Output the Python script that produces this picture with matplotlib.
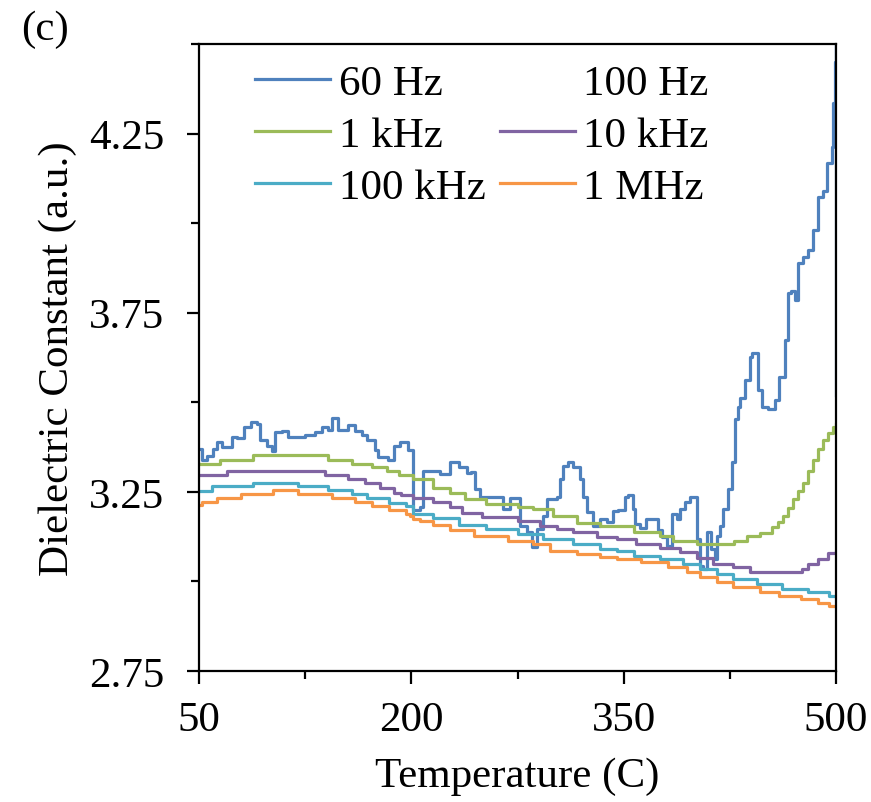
import matplotlib
matplotlib.use("Agg")
import matplotlib.pyplot as plt
from matplotlib.lines import Line2D
from matplotlib.ticker import FixedLocator

plt.rcParams['font.family'] = ['Liberation Serif', 'DejaVu Serif']

# ---- data ----
t_60hz = [50, 52, 56, 60, 63, 66, 68, 73, 77, 82, 87, 91, 93, 98, 101.6, 103.7, 108.6, 113, 118, 125,
          132, 137, 141, 144, 148, 155, 160, 165, 169, 174, 176.5, 183.5, 188, 192, 197.6, 201, 201.5,
          206, 208, 215, 220, 227, 234, 239, 242, 245, 248.5, 253, 260, 265, 270, 274.6, 277, 281.7,
          285, 289, 293, 296, 299, 303, 305, 307, 311, 314, 319, 321, 324, 328, 333, 338, 342.5, 346,
          351, 353, 356.6, 358, 361.5, 366, 370.7, 374, 377, 380.6, 384, 387.6, 390, 393, 397, 400,
          402, 404, 406, 409, 412, 414.5, 416, 418, 420, 423.7, 426.5, 428.6, 430.8, 432, 435.7, 439,
          441, 445, 448, 452, 457, 460, 464, 466, 468.5, 471, 473, 476.7, 480, 483.7, 487, 490.8,
          493.6, 497, 498, 499.5, 500, 500]
v_60hz = [3.37, 3.34, 3.349, 3.37, 3.388, 3.374, 3.374, 3.402, 3.40, 3.43, 3.446, 3.44, 3.396, 3.377,
          3.363, 3.416, 3.42, 3.402, 3.404, 3.41, 3.416, 3.432, 3.424, 3.457, 3.424, 3.437, 3.42, 3.41,
          3.396, 3.368, 3.346, 3.34, 3.377, 3.39, 3.368, 3.368, 3.20, 3.207, 3.307, 3.307, 3.299, 3.332,
          3.32, 3.304, 3.306, 3.257, 3.237, 3.235, 3.237, 3.201, 3.232, 3.232, 3.154, 3.137, 3.095,
          3.145, 3.182, 3.229, 3.229, 3.237, 3.285, 3.321, 3.332, 3.32, 3.285, 3.237, 3.193, 3.154,
          3.173, 3.165, 3.196, 3.2, 3.237, 3.24, 3.201, 3.159, 3.148, 3.173, 3.173, 3.143, 3.123, 3.098,
          3.187, 3.173, 3.201, 3.221, 3.237, 3.235, 3.118, 3.042, 3.034, 3.137, 3.09, 3.062, 3.126,
          3.154, 3.201, 3.257, 3.332, 3.452, 3.488, 3.513, 3.563, 3.627, 3.638, 3.535, 3.488, 3.48,
          3.507, 3.571, 3.675, 3.805, 3.81, 3.786, 3.889, 3.906, 3.925, 3.98, 4.073, 4.09, 4.167,
          4.212, 4.335, 4.45, 4.6, 3.52]

t_1khz = [50, 65, 88, 141, 158, 172, 183, 191, 201, 215, 227, 238, 253, 275, 286, 300, 317, 333, 357,
          376, 385, 402, 423, 428, 437, 446, 455, 459, 462.5, 466, 469.6, 473, 476.7, 480, 483.7, 487,
          490.8, 494, 497.9, 500]
v_1khz = [3.329, 3.340, 3.352, 3.340, 3.329, 3.318, 3.307, 3.296, 3.285, 3.262, 3.246, 3.229, 3.215,
          3.207, 3.201, 3.182, 3.162, 3.154, 3.137, 3.126, 3.112, 3.104, 3.104, 3.112, 3.126, 3.134,
          3.151, 3.165, 3.182, 3.205, 3.229, 3.252, 3.276, 3.308, 3.34, 3.37, 3.396, 3.415, 3.432, 3.44]

t_10khz = [50, 70, 139, 155, 167, 178, 188, 193, 201, 215, 227, 236, 250, 275, 291, 303, 314, 331, 345,
           359, 376, 390, 402, 413, 427, 439, 473, 476, 480, 487, 494, 500]
v_10khz = [3.296, 3.307, 3.296, 3.285, 3.274, 3.262, 3.246, 3.24, 3.232, 3.221, 3.207, 3.19, 3.179,
           3.168, 3.154, 3.145, 3.137, 3.123, 3.118, 3.104, 3.093, 3.081, 3.065, 3.048, 3.04, 3.026,
           3.026, 3.035, 3.048, 3.062, 3.079, 3.081]

t_100khz = [50, 59, 88, 120, 141, 158, 169, 184, 196, 201, 215, 234, 253, 275, 293, 314, 333, 345, 357,
            376, 392, 404, 416, 427, 444, 462, 480, 495, 500]
v_100khz = [3.251, 3.265, 3.276, 3.265, 3.254, 3.243, 3.232, 3.218, 3.21, 3.187, 3.176, 3.157, 3.145,
            3.131, 3.118, 3.104, 3.09, 3.084, 3.07, 3.062, 3.048, 3.034, 3.02, 3.006, 2.992, 2.978,
            2.97, 2.959, 2.959]

t_1mhz = [50, 52, 63, 80, 102, 120, 144, 160, 172, 184, 196, 199, 201, 206, 215, 227, 244, 268, 286,
          298, 317, 333, 345, 362, 381, 395, 404, 416, 427, 446, 460, 475, 487, 495, 500]
v_1mhz = [3.212, 3.223, 3.232, 3.243, 3.254, 3.243, 3.232, 3.221, 3.21, 3.198, 3.187, 3.182, 3.173,
          3.168, 3.157, 3.143, 3.126, 3.112, 3.104, 3.084, 3.076, 3.068, 3.062, 3.054, 3.04, 3.026,
          3.012, 2.998, 2.984, 2.97, 2.959, 2.95, 2.939, 2.931, 2.931]

labels = ["60 Hz", "100 Hz", "1 kHz", "10 kHz", "100 kHz", "1 MHz"]
colors = ["#4F81BD", "none", "#9BBB59", "#8064A2", "#4BACC6", "#F79646"]

x_ticks = [50, 200, 350, 500]
x_minor = [125, 275, 425]
y_ticks = [2.75, 3.25, 3.75, 4.25]
y_minor = [3.0, 3.5, 4.0, 4.5]

# ---- figure ----
fig = plt.figure(figsize=(8.71, 8.03), dpi=100)
ax = fig.add_axes([199/871, 1-672/803, (836-199)/871, (672-45)/803])

lw = 2.3
h60, = ax.plot(t_60hz, v_60hz, color=colors[0], lw=lw, drawstyle='steps-post')
h100 = Line2D([], [], color=colors[1], lw=lw)
h1k, = ax.plot(t_1khz, v_1khz, color=colors[2], lw=lw, drawstyle='steps-post')
h10k, = ax.plot(t_10khz, v_10khz, color=colors[3], lw=lw, drawstyle='steps-post')
h100k, = ax.plot(t_100khz, v_100khz, color=colors[4], lw=lw, drawstyle='steps-post')
h1m, = ax.plot(t_1mhz, v_1mhz, color=colors[5], lw=lw, drawstyle='steps-post')

ax.set_xlim(50, 500)
ax.set_ylim(2.75, 4.5)
ax.xaxis.set_major_locator(FixedLocator(x_ticks))
ax.xaxis.set_minor_locator(FixedLocator(x_minor))
ax.yaxis.set_major_locator(FixedLocator(y_ticks))
ax.yaxis.set_minor_locator(FixedLocator(y_minor))
ax.set_xticklabels([str(v) for v in x_ticks])
ax.set_yticklabels([f"{v:.2f}" for v in y_ticks])

FS = 31
for s in ax.spines.values():
    s.set_linewidth(1.6)
    s.set_color('black')
ax.tick_params(axis='both', which='major', direction='out', length=9, width=1.6,
               labelsize=FS, colors='black')
ax.tick_params(axis='both', which='minor', direction='out', length=6, width=1.6)
ax.tick_params(axis='x', which='major', pad=12)
ax.tick_params(axis='y', which='major', pad=16)

ax.set_xlabel("Temperature (C)", fontsize=FS, labelpad=13)
ax.set_ylabel("Dielectric Constant (a.u.)", fontsize=FS, labelpad=9)

handles = [h60, h1k, h100k, h100, h10k, h1m]
leg_labels = [labels[0], labels[2], labels[4], labels[1], labels[3], labels[5]]
ax.legend(handles, leg_labels, ncol=2, frameon=False, fontsize=FS,
          loc='upper left', bbox_to_anchor=(0.061, 0.996),
          handlelength=1.75, handletextpad=0.19, labelspacing=0.3, columnspacing=0.33,
          borderaxespad=0.0)

fig.text(45/871, 1-30/803, "(c)", fontsize=FS, ha='center', va='center')

fig.savefig("out.png", dpi=100)
